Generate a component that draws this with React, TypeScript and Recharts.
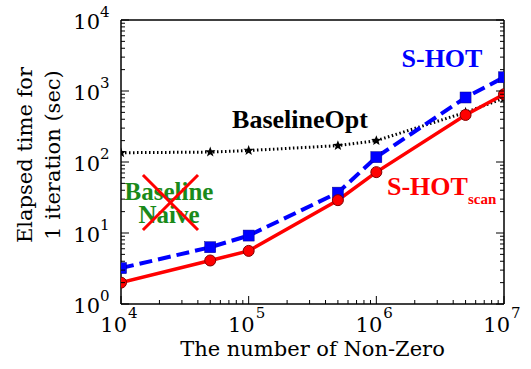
import { LineChart, Line, XAxis, YAxis, ReferenceLine } from 'recharts';

const nnz = [1e4, 5e4, 1e5, 5e5, 1e6, 5e6, 1e7];
const shot = [3.2, 6.3, 9.2, 37, 117, 810, 1560];
const shotScan = [2.0, 4.1, 5.6, 29, 72, 460, 900];
const baselineOpt = [135, 138, 145, 170, 200, 500, 790];

const xTicks = [4, 5, 6].flatMap(e => [1, 2, 3, 4, 5, 6, 7, 8, 9].map(m => m * 10 ** e)).concat([1e7]);
const yTicks = [0, 1, 2, 3].flatMap(e => [1, 2, 3, 4, 5, 6, 7, 8, 9].map(m => m * 10 ** e)).concat([1e4]);

const data = nnz.map((n, i) => ({ nnz: n, shot: shot[i], shotScan: shotScan[i], opt: baselineOpt[i] }));

const SERIF = '"DejaVu Serif", serif';
const BOLD = '"Liberation Serif", "Times New Roman", serif';

const isMajor = (v: number) => Math.abs(Math.log10(v) - Math.round(Math.log10(v))) < 1e-9;

function XTick({ x, y, payload, side }: any) {
  const v = payload.value;
  const major = isMajor(v);
  const len = major ? 8 : 4;
  const dir = side === 'top' ? 1 : -1;
  const exp = Math.round(Math.log10(v));
  return (
    <g>
      <line x1={x} x2={x} y1={y} y2={y + dir * len} stroke="#000" strokeWidth={1} />
      {major && side !== 'top' && (
        <g fontFamily={SERIF} fill="#000">
          <text x={x + 6} y={y + 28} textAnchor="end" fontSize={21}>10</text>
          <text x={x + 7} y={y + 14} textAnchor="start" fontSize={15}>{exp}</text>
        </g>
      )}
    </g>
  );
}

function YTick({ x, y, payload, side }: any) {
  const v = payload.value;
  const major = isMajor(v);
  const len = major ? 8 : 4;
  const dir = side === 'right' ? -1 : 1;
  const exp = Math.round(Math.log10(v));
  return (
    <g>
      <line x1={x} x2={x + dir * len} y1={y} y2={y} stroke="#000" strokeWidth={1} />
      {major && side !== 'right' && (
        <g fontFamily={SERIF} fill="#000">
          <text x={x - 21} y={y + 9} textAnchor="end" fontSize={21}>10</text>
          <text x={x - 21} y={y - 3} textAnchor="start" fontSize={15}>{exp}</text>
        </g>
      )}
    </g>
  );
}

function Star({ cx, cy }: any) {
  if (cx == null || cy == null) return <g />;
  const pts: string[] = [];
  for (let i = 0; i < 10; i++) {
    const r = i % 2 === 0 ? 5.5 : 2.3;
    const a = -Math.PI / 2 + (i * Math.PI) / 5;
    pts.push(`${cx + r * Math.cos(a)},${cy + r * Math.sin(a)}`);
  }
  return <polygon points={pts.join(' ')} fill="#000" />;
}

function Square({ cx, cy }: any) {
  if (cx == null || cy == null) return <g />;
  return <rect x={cx - 5.5} y={cy - 5.5} width={11} height={11} fill="#0000ff" stroke="#00008b" strokeWidth={0.5} />;
}

function Circle({ cx, cy }: any) {
  if (cx == null || cy == null) return <g />;
  return <circle cx={cx} cy={cy} r={5.5} fill="#ff0000" stroke="#800000" strokeWidth={1} />;
}

export default function App() {
  return (
    <div style={{ position: 'absolute', left: 0, top: 0, background: '#fff' }}>
      <LineChart width={531} height={369} data={data} margin={{ top: 19, right: 26, bottom: 0, left: 0 }}>
        <XAxis
          dataKey="nnz"
          type="number"
          scale="log"
          domain={[1e4, 1e7]}
          allowDataOverflow
          ticks={xTicks}
          interval={0}
          height={65}
          tickSize={0}
          tickMargin={0}
          axisLine={{ stroke: '#000', strokeWidth: 1.5 }}
          tick={<XTick side="bottom" />}
          label={{ value: 'The number of Non-Zero', position: 'insideBottom', offset: 13, fontFamily: SERIF, fontSize: 21, fill: '#000' }}
        />
        <XAxis
          xAxisId="top"
          orientation="top"
          type="number"
          scale="log"
          domain={[1e4, 1e7]}
          allowDataOverflow
          ticks={xTicks}
          interval={0}
          height={1}
          tickSize={0}
          tickMargin={0}
          axisLine={{ stroke: '#000', strokeWidth: 1.5 }}
          tick={<XTick side="top" />}
        />
        <YAxis
          type="number"
          scale="log"
          domain={[1, 1e4]}
          allowDataOverflow
          ticks={yTicks}
          interval={0}
          width={121}
          tickSize={0}
          tickMargin={0}
          axisLine={{ stroke: '#000', strokeWidth: 1.5 }}
          tick={<YTick side="left" />}
        />
        <YAxis
          yAxisId="right"
          orientation="right"
          type="number"
          scale="log"
          domain={[1, 1e4]}
          allowDataOverflow
          ticks={yTicks}
          interval={0}
          width={1}
          tickSize={0}
          tickMargin={0}
          axisLine={{ stroke: '#000', strokeWidth: 1.5 }}
          tick={<YTick side="right" />}
        />
        <text transform="translate(25,155) rotate(-90)" textAnchor="middle" fontFamily={SERIF} fontSize={21} fill="#000">
          <tspan x={0} y={7}>Elapsed time for</tspan>
          <tspan x={0} y={35}>1 iteration (sec)</tspan>
        </text>
        <Line dataKey="opt" stroke="#000" strokeWidth={3} strokeDasharray="1.5 2.5" dot={<Star />} isAnimationActive={false} />
        <Line dataKey="shot" stroke="#0000ff" strokeWidth={4} strokeDasharray="13 6" dot={<Square />} isAnimationActive={false} />
        <Line dataKey="shotScan" stroke="#ff0000" strokeWidth={3.5} dot={<Circle />} isAnimationActive={false} />
        <ReferenceLine segment={[{ x: 14850, y: 65.6 }, { x: 40100, y: 11 }]} stroke="#ff0000" strokeWidth={3} />
        <ReferenceLine segment={[{ x: 40100, y: 65.6 }, { x: 14850, y: 11 }]} stroke="#ff0000" strokeWidth={3} />
        <g fontFamily={BOLD} fontWeight="bold">
          <text x={442} y={67} textAnchor="middle" fontSize={26} fill="#0000ff">S-HOT</text>
          <text x={300} y={128} textAnchor="middle" fontSize={26} fill="#000">BaselineOpt</text>
          <text x={387} y={195} textAnchor="start" fontSize={26} fill="#ff0000">
            S-HOT<tspan fontSize={15} dy={9}>scan</tspan>
          </text>
          <text x={169} y={200} textAnchor="middle" fontSize={25} fill="#1a8a1a">Baseline</text>
          <text x={169} y={223} textAnchor="middle" fontSize={25} fill="#1a8a1a">Naive</text>
        </g>
      </LineChart>
    </div>
  );
}
